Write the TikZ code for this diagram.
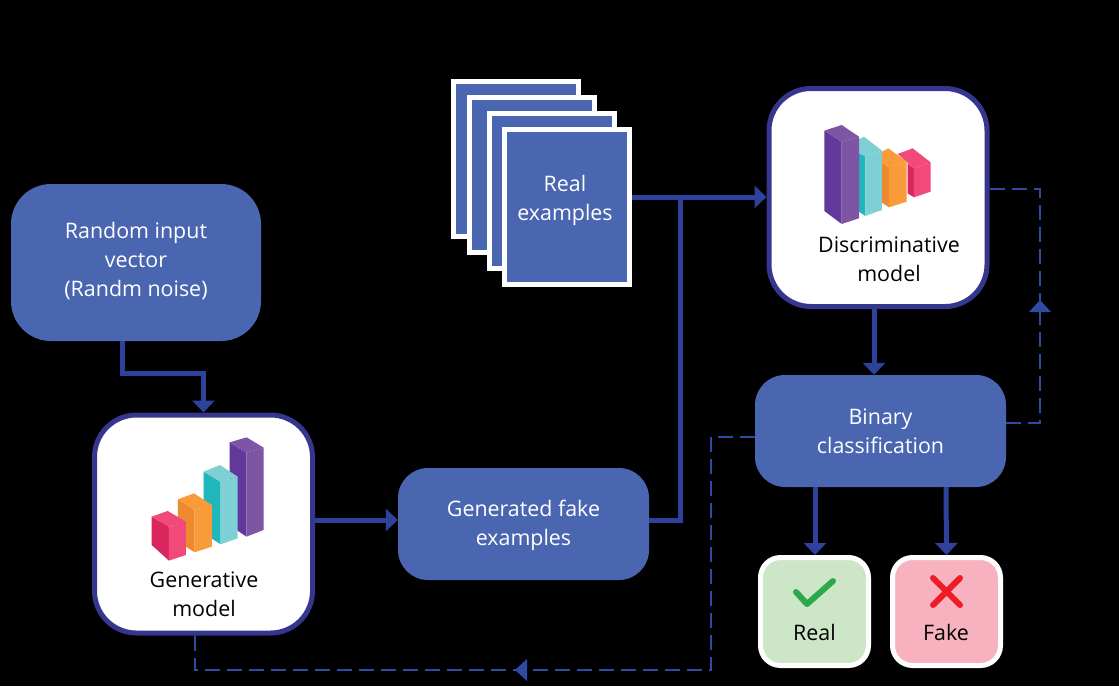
\documentclass[tikz,border=0pt]{standalone}
\usepackage{fontspec}
\setmainfont{Open Sans}
\usetikzlibrary{arrows.meta}
\definecolor{boxblue}{HTML}{4B66B1}
\definecolor{linkblue}{HTML}{2E429C}
\definecolor{rimblue}{HTML}{35378F}
\definecolor{dashblue}{HTML}{2E4AA3}
\definecolor{realgreen}{HTML}{CDE6C8}
\definecolor{fakepink}{HTML}{F8B1BF}
\definecolor{tickgreen}{HTML}{2BA84A}
\definecolor{crossred}{HTML}{ED1C24}
\definecolor{pinkL}{HTML}{D9265F}
\definecolor{pinkR}{HTML}{F2497B}
\definecolor{orangeL}{HTML}{EE8A2E}
\definecolor{orangeR}{HTML}{FA9B3A}
\definecolor{tealL}{HTML}{1FB6BC}
\definecolor{tealR}{HTML}{7FD0D4}
\definecolor{purpleL}{HTML}{62399B}
\definecolor{purpleR}{HTML}{7E54A5}
\tikzset{
  x=1pt,y=-1pt,
  bluebox/.style={draw=none,fill=boxblue,text=white,align=center,inner sep=0pt,minimum width=#1},
  modelbox/.style={draw=rimblue,line width=5pt,fill=white,rounded corners=42pt,minimum width=218pt,minimum height=218pt,inner sep=0pt},
  sheet/.style={draw=white,line width=5pt,fill=boxblue,minimum width=125pt,minimum height=155pt,inner sep=0pt,text=white,align=center},
  verdict/.style={draw=white,line width=5pt,rounded corners=20pt,minimum width=108pt,minimum height=108pt,inner sep=0pt},
  caption/.style={align=center,inner sep=0pt,text=black},
  link/.style={draw=linkblue,line width=5pt,-{Triangle[length=12pt,width=22pt]}},
  plainlink/.style={draw=linkblue,line width=5pt},
  dashlink/.style={draw=dashblue,line width=2pt,dash pattern=on 15pt off 7pt},
  marklink/.style={fill=dashblue,draw=none},
  barscope/.style={x=.3333pt,y=-.3333pt},
}
\newcommand{\poly}[2]{\fill[#1] #2 -- cycle;}
\newcommand{\lift}[2]{\raisebox{#1}[\height][\depth]{\begin{tabular}{@{}c@{}}#2\end{tabular}}}
\begin{document}
\begin{tikzpicture}[font=\fontsize{21.4}{29}\selectfont]
\useasboundingbox (0,0) rectangle (1119,686);
\fill[black] (0,0) rectangle (1119,686);
% boxes
\node[bluebox=250pt,minimum height=157pt,rounded corners=40pt] (rand) at (136,262.5) {\lift{1pt}{Random input\\vector\\(Randm noise)}};
\node[modelbox] (gen) at (203.5,524) {};
\node[bluebox=251pt,minimum height=112pt,rounded corners=30pt] (fake) at (523.5,524) {\lift{-1.5pt}{Generated fake\\examples}};
\node[sheet] (s1) at (516,159) {};
\node[sheet] (s2) at (532,175) {};
\node[sheet] (s3) at (552,191) {};
\node[sheet] (real) at (567,207) {\lift{7pt}{Real\\examples}\hspace*{4pt}};
\node[modelbox] (disc) at (878,197.5) {};
\node[bluebox=251pt,minimum height=112pt,rounded corners=30pt] (bin) at (880.5,431) {Binary\\classification};
\node[verdict,fill=realgreen] (okbox) at (814.5,611.5) {};
\node[verdict,fill=fakepink] (nobox) at (946.5,611.5) {};
% captions
\node[caption] (gencap) at (204,594) {Generative\\model};
\node[caption] (disccap) at (889,259.5) {Discriminative\\model};
\node[caption] (okcap) at (814.5,632.5) {Real};
\node[caption] (nocap) at (946,632.5) {Fake};
% bars of the generative model
\begin{scope}[shift={(90,410)},barscope]
\poly{purpleL}{(419,97)--(469,128)--(469,380)--(419,345)}
\poly{purpleR}{(469,128)--(521,113)--(521,360)--(469,380)}
\poly{purpleR}{(419,97)--(470,82)--(521,113)--(469,128)}
\poly{tealL}{(341,185)--(392,215)--(392,403)--(341,370)}
\poly{tealR}{(392,215)--(443,200)--(443,385)--(392,403)}
\poly{tealR}{(341,185)--(390,165)--(443,200)--(392,215)}
\poly{orangeL}{(264,268)--(314,300)--(314,427)--(264,395)}
\poly{orangeR}{(314,300)--(366,285)--(366,410)--(314,427)}
\poly{orangeR}{(264,268)--(312,250)--(366,285)--(314,300)}
\poly{pinkL}{(185,320)--(237,350)--(237,452)--(185,405)}
\poly{pinkR}{(237,350)--(288,335)--(288,435)--(237,452)}
\poly{pinkR}{(185,320)--(233,303)--(288,335)--(237,350)}
\end{scope}
% bars of the discriminative model
\begin{scope}[shift={(760,80)},barscope]
\poly{pinkL}{(443,250)--(462,265)--(462,352)--(443,340)}
\poly{pinkR}{(462,265)--(512,247)--(512,335)--(462,352)}
\poly{pinkR}{(413,222)--(458,205)--(512,247)--(462,265)}
\poly{orangeL}{(366,248)--(387,262)--(387,382)--(366,368)}
\poly{orangeR}{(387,262)--(440,245)--(440,365)--(387,382)}
\poly{orangeR}{(366,215)--(385,205)--(440,245)--(387,262)--(366,248)}
\poly{tealL}{(297,220)--(316,228)--(316,408)--(297,395)}
\poly{tealR}{(316,228)--(366,212)--(366,390)--(316,408)}
\poly{tealR}{(297,178)--(312,170)--(366,212)--(316,228)--(297,220)}
\poly{purpleL}{(193,152)--(245,185)--(245,432)--(193,393)}
\poly{purpleR}{(245,185)--(297,170)--(297,415)--(245,432)}
\poly{purpleR}{(193,152)--(245,135)--(297,170)--(245,185)}
\end{scope}
% tick and cross
\draw[tickgreen,line width=6pt,line cap=round,line join=round] (796,592) -- (807,604) -- (833,581);
\draw[crossred,line width=6pt,line cap=round] (933,578) -- (960,605) (960,578) -- (933,605);
% connectors
\coordinate (c1) at (680,197);
\draw[link] ([xshift=-14pt]rand.south) -- ++(0,32) -| (gen.north);
\draw[link] ([yshift=4pt]gen.east) -- ([yshift=4pt]fake.west);
\draw[link] ([yshift=10pt]real.east) -- ([yshift=.5pt]disc.west);
\draw[plainlink] ([yshift=4pt]fake.east) -| (c1);
\draw[link] ([xshift=-4pt]disc.south) -- ([xshift=-6.5pt]bin.north);
\draw[link] ([xshift=-65.5pt]bin.south) -- (okbox.north -| 815,0);
\draw[link] ([xshift=65.5pt]bin.south) -- (nobox.north);
% dashed feedback
\coordinate (up) at (1040,300);
\coordinate (left) at (515,670);
\draw[dashlink] ([yshift=8.5pt]disc.east) -- (1040,189) -- (up);
\draw[dashlink] ([yshift=8pt]bin.east) -- (1040,423) -- (up);
\draw[dashlink] ([yshift=-6pt]bin.west) -- (711,437) -- (711,670) -- (left);
\draw[dashlink] (gen.south -| 195,0) -- (195,670) -- (left);
\fill[marklink] (up) -- ++(11,12) -- ++(-22,0) -- cycle;
\fill[marklink] (left) -- ++(12,-11) -- ++(0,22) -- cycle;
\end{tikzpicture}
\end{document}
